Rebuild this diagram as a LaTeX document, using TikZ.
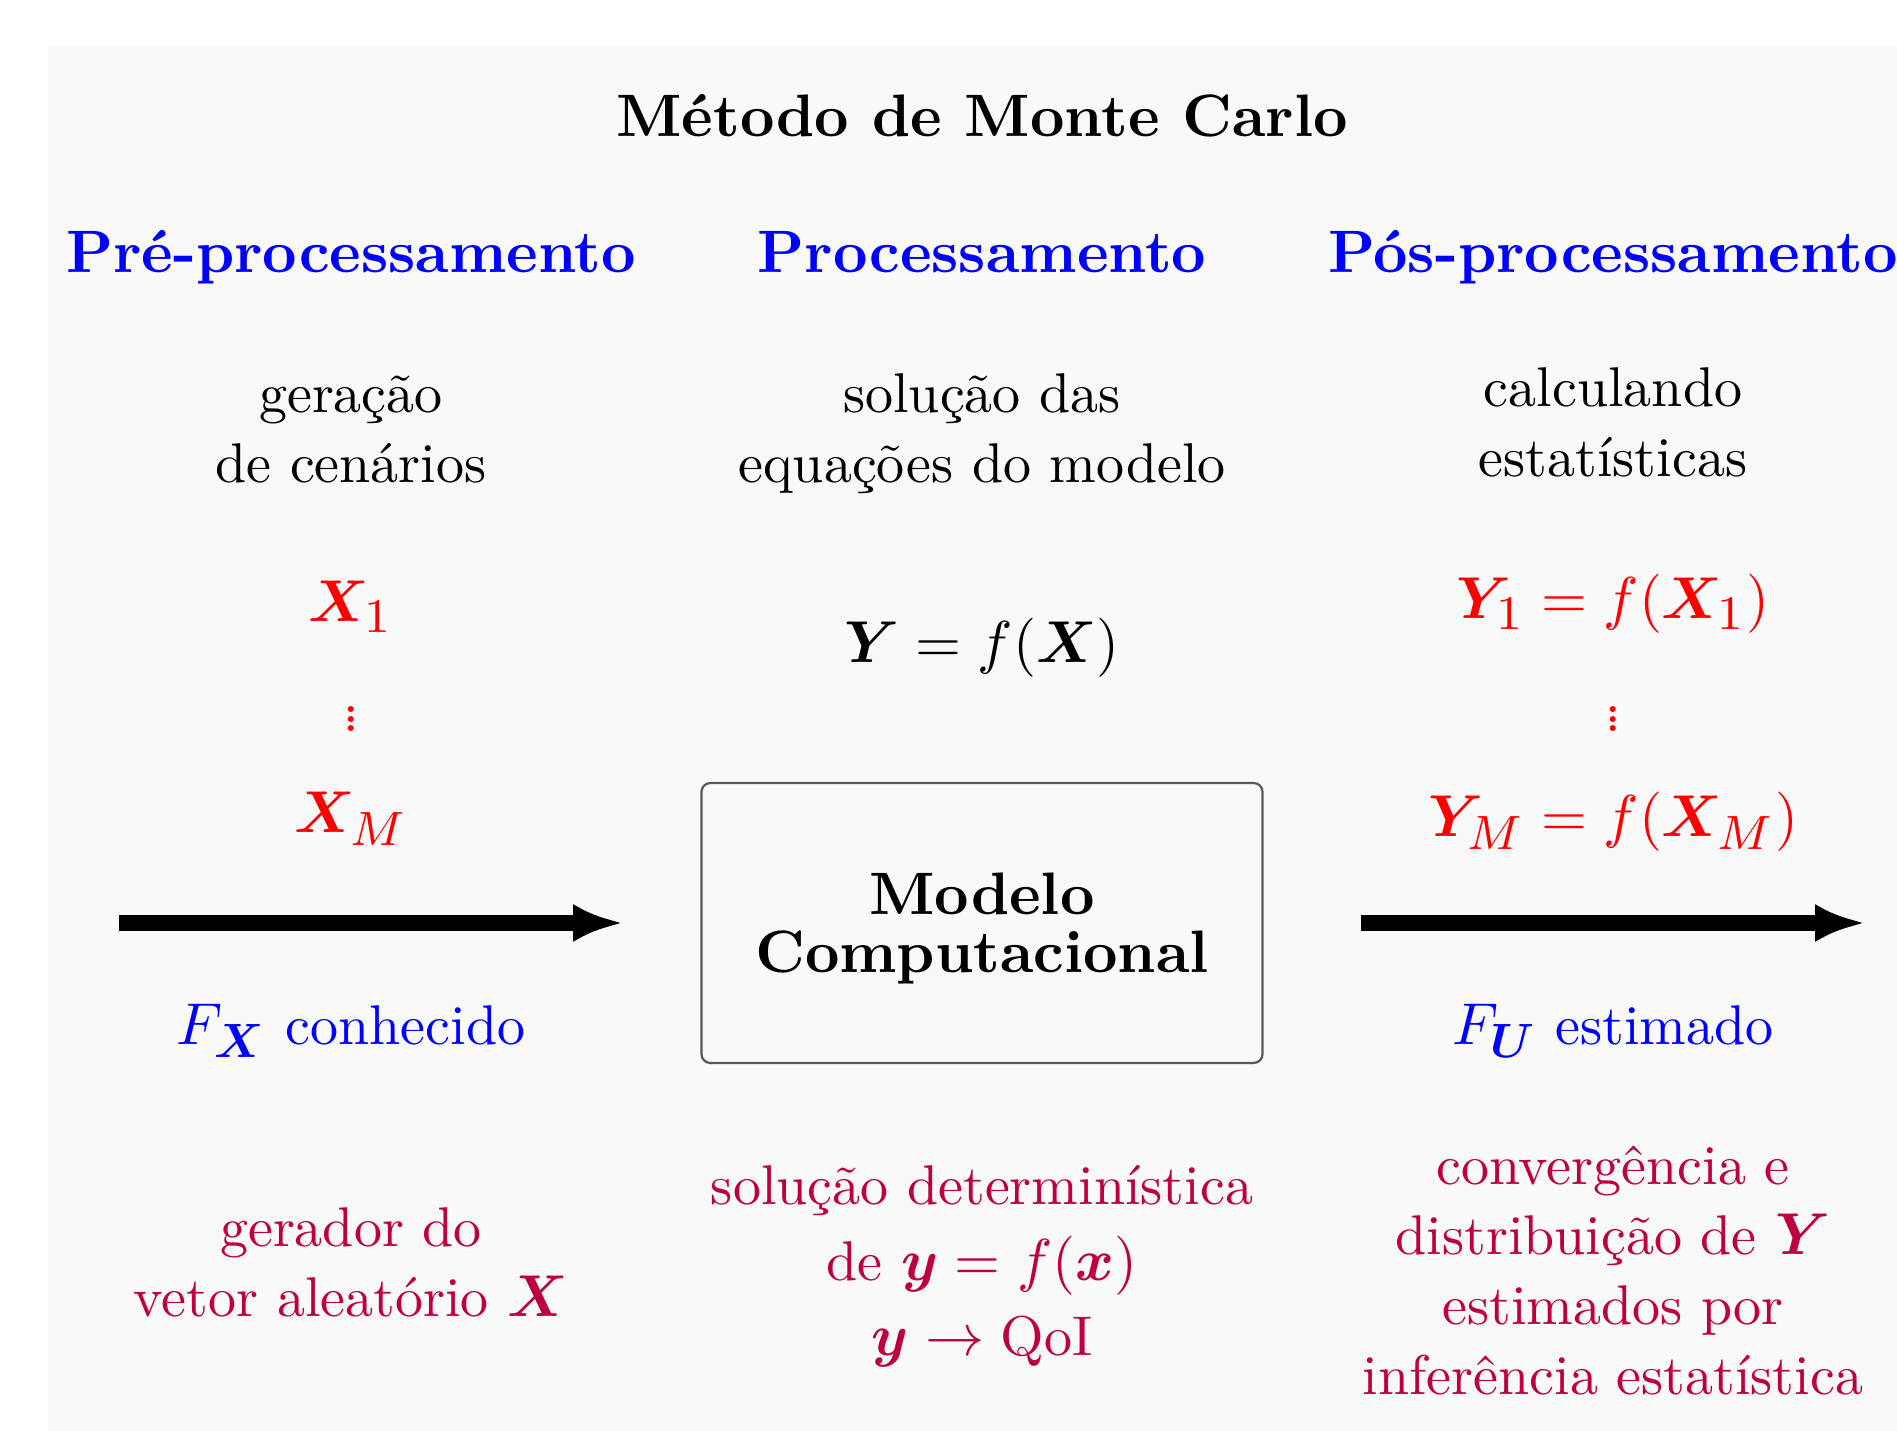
\RequirePackage{fix-cm}
\documentclass[tikz,border=0pt]{standalone}
\usepackage{amsmath}
\usepackage{bm}
\usetikzlibrary{arrows.meta}

\DeclareMathSizes{10}{10.55}{8.6}{6.5}
\newcommand{\minivdots}{\vbox{\baselineskip=1.7pt\lineskiplimit=0pt\hbox{.}\hbox{.}\hbox{.}}}

\begin{document}
\begin{tikzpicture}[x=0.17857pt,y={(0pt,-0.17857pt)},
  head/.style={anchor=base,text=blue,font=\fontsize{10.7}{12.5}\selectfont\bfseries},
  txt/.style={anchor=base,align=center,font=\fontsize{10}{12.5}\selectfont},
  smp/.style={anchor=base,text=red,font=\fontsize{10}{12.5}\selectfont},
  dst/.style={anchor=base,text=blue,font=\fontsize{10}{12.5}\selectfont},
  nt/.style={anchor=base,align=center,text=purple,font=\fontsize{10}{12.5}\selectfont},
  flow/.style={line width=2.86pt,-{Latex[length=8.9pt,width=6.8pt]}}]
  \fill[gray!5] (48,46) rectangle (1897,1431);
  \useasboundingbox (0,0) rectangle (1897,1431);

  \node[anchor=base,font=\fontsize{10.7}{12.5}\selectfont\bfseries] (ttl) at (982,137) {Método de Monte Carlo};
  \node[head] (pre) at (351,273) {Pré-processamento};
  \node[head] (pro) at (982,273) {Processamento};
  \node[head] (pos) at (1613,273) {Pós-processamento};

  % multi-line nodes sit on their last line
  \node[txt] (ger) at (351,483) {geração\\de cenários};
  \node[txt] (sol) at (982,483) {solução das\\equações do modelo};
  \node[txt] (cal) at (1613,477) {calculando\\estatísticas};

  \node[smp] (x1) at (351,622) {$\bm{X}_1$};
  \node[smp] (xd) at (351,732) {\minivdots};
  \node[smp] (xm) at (351,833) {$\bm{X}_M$};
  \node[anchor=base,font=\fontsize{10}{12.5}\selectfont] (eq) at (982,663) {$\bm{Y}=f(\bm{X})$};
  \node[smp] (y1) at (1613,619) {$\bm{Y}_1=f(\bm{X}_1)$};
  \node[smp] (yd) at (1613,732) {\minivdots};
  \node[smp] (ym) at (1613,837) {$\bm{Y}_M=f(\bm{X}_M)$};

  \node[draw=black!65,rounded corners=1.6pt,minimum width=100.2pt,minimum height=50pt,
    text depth=0pt,align=center,font=\fontsize{10.7}{10.4}\selectfont\bfseries] (mc) at (982,923) {Modelo\\Computacional};

  \coordinate (lin) at (119,923);
  \coordinate (lout) at (623,923);
  \coordinate (rin) at (1361,923);
  \coordinate (rout) at (1865,923);
  \draw[flow] (lin) -- (lout);
  \draw[flow] (rin) -- (rout);

  \node[dst] (fx) at (351,1045) {$F_{\bm{X}}$ conhecido};
  \node[dst] (fu) at (1613,1045) {$F_{\bm{U}}$ estimado};

  \node[nt] (gv) at (351,1317) {gerador do\\vetor aleatório $\bm{X}$};
  \node[nt] (sd) at (982,1356) {solução determinística\\[1pt]de $\bm{y}=f(\bm{x})$\\[1pt]$\bm{y}\to\text{QoI}$};
  \node[nt] (cd) at (1613,1395) {convergência e\\distribuição de $\bm{Y}$\\estimados por\\inferência estatística};
\end{tikzpicture}
\end{document}
